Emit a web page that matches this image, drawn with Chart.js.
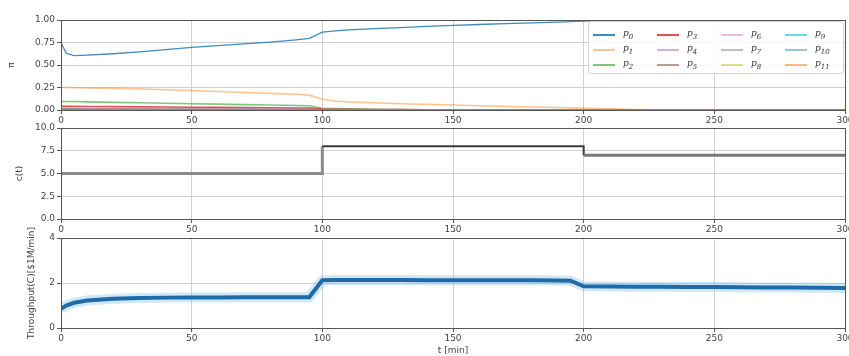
<!DOCTYPE html>
<html>
<head>
<meta charset="utf-8">
<script src="https://cdn.jsdelivr.net/npm/chart.js@4.4.0/dist/chart.umd.min.js"></script>
<style>
  html, body { margin: 0; padding: 0; background: #fff; overflow: hidden; width: 849px; height: 356px; }
  canvas { position: absolute; left: 0; }
  #legend {
    position: absolute; left: 588px; top: 21px; width: 256px; height: 53px;
    border: 1px solid #d4d4d4; border-radius: 3px; background: rgba(255,255,255,0.85);
    font-family: "DejaVu Serif", serif; font-size: 9px; color: #333; box-sizing: border-box;
    display: grid; grid-template-columns: repeat(4, 64px); grid-auto-rows: 15px; padding-top: 5px; z-index: 5;
  }
  #legend .item { display: flex; align-items: center; }
  #legend .sw { width: 22px; height: 0; border-top: 2px solid; margin: 0 8px 0 4px; }
  #legend i sub { font-size: 7px; }
</style>
</head>
<body>
<canvas id="probChart" width="870" height="125" style="top:0px"></canvas>
<canvas id="cChart" width="870" height="125" style="top:108px"></canvas>
<canvas id="tpChart" width="870" height="138" style="top:218px"></canvas>
<div id="legend"></div>
<script>
// time grid (minutes)
const times = [0, 2, 5, 10, 20, 30, 40, 50, 60, 70, 80, 90, 95, 100, 105, 110, 120, 130, 140, 150,
               160, 170, 180, 190, 195, 200, 210, 220, 230, 240, 250, 260, 270, 280, 290, 300];

// state probabilities p0..p11
const p0 = [0.75, 0.63, 0.605, 0.61, 0.625, 0.645, 0.67, 0.695, 0.715, 0.735, 0.755, 0.78, 0.795, 0.865, 0.88, 0.89, 0.905, 0.915, 0.93, 0.94,
            0.95, 0.96, 0.968, 0.977, 0.982, 0.988, 0.993, 0.997, 0.999, 1, 1, 1, 1, 1, 1, 1];
const p1 = [0.25, 0.25, 0.248, 0.245, 0.24, 0.235, 0.225, 0.215, 0.205, 0.195, 0.185, 0.175, 0.165, 0.12, 0.1, 0.09, 0.08, 0.07, 0.062, 0.055,
            0.047, 0.04, 0.033, 0.027, 0.024, 0.02, 0.012, 0.006, 0.003, 0.001, 0, 0, 0, 0, 0, 0];
const p2 = [0.095, 0.095, 0.094, 0.09, 0.085, 0.08, 0.075, 0.07, 0.065, 0.06, 0.055, 0.05, 0.048, 0.02, 0.015, 0.012, 0.008, 0.005, 0.003, 0.002,
            0.001, 0, 0, 0, 0, 0, 0, 0, 0, 0, 0, 0, 0, 0, 0, 0];
const p3 = [0.04, 0.04, 0.04, 0.039, 0.037, 0.035, 0.033, 0.031, 0.029, 0.027, 0.025, 0.023, 0.022, 0.01, 0.008, 0.007, 0.005, 0.004, 0.003, 0.002,
            0.002, 0.001, 0.001, 0, 0, 0, 0, 0, 0, 0, 0, 0, 0, 0, 0, 0];
const p4 = [0.015, 0.015, 0.015, 0.014, 0.013, 0.012, 0.011, 0.01, 0.009, 0.008, 0.007, 0.006, 0.006, 0.003, 0.002, 0.002, 0.001, 0.001, 0, 0,
            0, 0, 0, 0, 0, 0, 0, 0, 0, 0, 0, 0, 0, 0, 0, 0];
const p5 = [0.012, 0.012, 0.012, 0.011, 0.01, 0.009, 0.009, 0.008, 0.007, 0.007, 0.006, 0.005, 0.005, 0.002, 0.002, 0.001, 0.001, 0, 0, 0,
            0, 0, 0, 0, 0, 0, 0, 0, 0, 0, 0, 0, 0, 0, 0, 0];
const p6 = [0.008, 0.008, 0.008, 0.008, 0.007, 0.007, 0.006, 0.006, 0.005, 0.005, 0.004, 0.004, 0.004, 0.002, 0.001, 0.001, 0, 0, 0, 0,
            0, 0, 0, 0, 0, 0, 0, 0, 0, 0, 0, 0, 0, 0, 0, 0];
const p7 = [0.006, 0.006, 0.006, 0.006, 0.005, 0.005, 0.005, 0.004, 0.004, 0.004, 0.003, 0.003, 0.003, 0.001, 0.001, 0, 0, 0, 0, 0,
            0, 0, 0, 0, 0, 0, 0, 0, 0, 0, 0, 0, 0, 0, 0, 0];
const p8 = [0.005, 0.005, 0.005, 0.005, 0.004, 0.004, 0.004, 0.003, 0.003, 0.003, 0.002, 0.002, 0.002, 0.001, 0, 0, 0, 0, 0, 0,
            0, 0, 0, 0, 0, 0, 0, 0, 0, 0, 0, 0, 0, 0, 0, 0];
const p9 = [0.004, 0.004, 0.004, 0.004, 0.003, 0.003, 0.003, 0.003, 0.002, 0.002, 0.002, 0.002, 0.002, 0.001, 0, 0, 0, 0, 0, 0,
            0, 0, 0, 0, 0, 0, 0, 0, 0, 0, 0, 0, 0, 0, 0, 0];
const p10 = [0.003, 0.003, 0.003, 0.003, 0.003, 0.002, 0.002, 0.002, 0.002, 0.002, 0.001, 0.001, 0.001, 0, 0, 0, 0, 0, 0, 0,
             0, 0, 0, 0, 0, 0, 0, 0, 0, 0, 0, 0, 0, 0, 0, 0];
const p11 = [0.003, 0.003, 0.003, 0.003, 0.002, 0.002, 0.002, 0.002, 0.002, 0.001, 0.001, 0.001, 0.001, 0, 0, 0, 0, 0, 0, 0,
             0, 0, 0, 0, 0, 0, 0, 0, 0, 0, 0, 0, 0, 0, 0, 0];
const probSeries = [p0, p1, p2, p3, p4, p5, p6, p7, p8, p9, p10, p11];
const probColors = ['rgba(31,119,180,0.85)', 'rgba(255,127,14,0.45)', 'rgba(44,160,44,0.6)', 'rgba(214,39,40,0.8)',
                    'rgba(148,103,189,0.5)', 'rgba(140,86,75,0.6)', 'rgba(227,119,194,0.5)', 'rgba(127,127,127,0.5)',
                    'rgba(188,189,34,0.5)', 'rgba(23,190,207,0.6)', 'rgba(31,119,180,0.45)', 'rgba(255,127,14,0.55)'];

// control input c(t), piecewise constant
const cTimes = [0, 100, 200, 300];
const cValues = [5, 8, 7, 7];
const cColors = ['#8a8a8a', '#3a3a3a', '#777777'];

// throughput
const throughput = [0.85, 1.0, 1.12, 1.22, 1.3, 1.33, 1.35, 1.36, 1.36, 1.37, 1.37, 1.37, 1.37, 2.12, 2.13, 2.13, 2.13, 2.13, 2.12, 2.12,
                    2.12, 2.12, 2.12, 2.11, 2.1, 1.85, 1.84, 1.83, 1.83, 1.82, 1.82, 1.81, 1.8, 1.8, 1.79, 1.78];

const xTicks = [0, 50, 100, 150, 200, 250, 300];

Chart.defaults.font.family = 'DejaVu Sans';
Chart.defaults.font.size = 9;
Chart.defaults.color = '#444';

// draws the box round the plot area
const frame = {
  id: 'frame',
  afterDraw(chart) {
    const a = chart.chartArea;
    const ctx = chart.ctx;
    ctx.save();
    ctx.strokeStyle = '#555';
    ctx.lineWidth = 1;
    ctx.strokeRect(Math.round(a.left) + 0.5, Math.round(a.top) + 0.5, Math.round(a.right - a.left), Math.round(a.bottom - a.top));
    ctx.restore();
  }
};

function pts(xs, ys) {
  return xs.map((x, i) => ({ x: x, y: ys[i] }));
}

function xScale(h, title) {
  return {
    type: 'linear', min: 0, max: 300,
    afterBuildTicks: s => { s.ticks = xTicks.map(v => ({ value: v })); },
    grid: { color: '#d0d0d0', tickLength: 4, tickColor: '#555' },
    border: { display: false },
    ticks: { padding: 1, maxRotation: 0 },
    title: title ? { display: true, text: title, padding: 0, font: { size: 9 } } : { display: false },
    afterFit: s => { s.height = h; }
  };
}

function yScale(min, max, step, dec, title, tpad) {
  return {
    min: min, max: max,
    grid: { color: '#d0d0d0', tickLength: 4, tickColor: '#555' },
    border: { display: false },
    ticks: { stepSize: step, padding: 2, callback: v => v.toFixed(dec) },
    title: { display: true, text: title, padding: { top: tpad, bottom: 0 }, font: { size: 9 } },
    afterFit: s => { s.width = 61; }
  };
}

const baseOpts = {
  responsive: false,
  animation: false,
  devicePixelRatio: 1,
  plugins: { legend: { display: false }, tooltip: { enabled: false } },
  elements: { point: { radius: 0 }, line: { tension: 0 } }
};

new Chart(document.getElementById('probChart'), {
  type: 'line',
  data: {
    datasets: probSeries.map((s, i) => ({
      label: 'p' + i,
      data: pts(times, s),
      borderColor: probColors[i],
      borderWidth: i === 0 ? 1.3 : 1.6
    })).reverse()
  },
  options: Object.assign({}, baseOpts, {
    layout: { padding: { top: 20, right: 25, left: 0, bottom: 0 } },
    scales: { x: xScale(15), y: yScale(0, 1, 0.25, 2, 'π', 6) }
  }),
  plugins: [frame]
});

new Chart(document.getElementById('cChart'), {
  type: 'line',
  data: {
    datasets: [{
      label: 'c(t)',
      data: pts(cTimes, cValues),
      stepped: 'before',
      borderWidth: 2.5,
      borderColor: '#666',
      segment: {
        borderColor: ctx => cColors[Math.min(ctx.p0DataIndex, cColors.length - 1)],
        borderWidth: ctx => ctx.p0DataIndex === 1 ? 2 : 3
      }
    }]
  },
  options: Object.assign({}, baseOpts, {
    layout: { padding: { top: 20, right: 25, left: 0, bottom: 0 } },
    scales: { x: xScale(14), y: yScale(0, 10, 2.5, 1, 'c(t)', 14) }
  }),
  plugins: [frame]
});

new Chart(document.getElementById('tpChart'), {
  type: 'line',
  data: {
    datasets: [
      { label: 'throughput', data: pts(times, throughput), borderColor: '#1f6aa8', borderWidth: 4 },
      { label: 'band', data: pts(times, throughput), borderColor: 'rgba(120,190,235,0.35)', borderWidth: 10 }
    ]
  },
  options: Object.assign({}, baseOpts, {
    layout: { padding: { top: 20, right: 25, left: 0, bottom: 0 } },
    scales: { x: xScale(28, 't [min]'), y: yScale(0, 4, 2, 0, 'Throughput(C)[$1M/min]', 26) }
  }),
  plugins: [frame]
});

// legend laid out column by column, like the original
const legend = document.getElementById('legend');
const order = [0, 3, 6, 9, 1, 4, 7, 10, 2, 5, 8, 11];
order.forEach(i => {
  const d = document.createElement('div');
  d.className = 'item';
  d.innerHTML = '<span class="sw" style="border-color:' + probColors[i] + '"></span><i>p<sub>' + i + '</sub></i>';
  legend.appendChild(d);
});
</script>
</body>
</html>
